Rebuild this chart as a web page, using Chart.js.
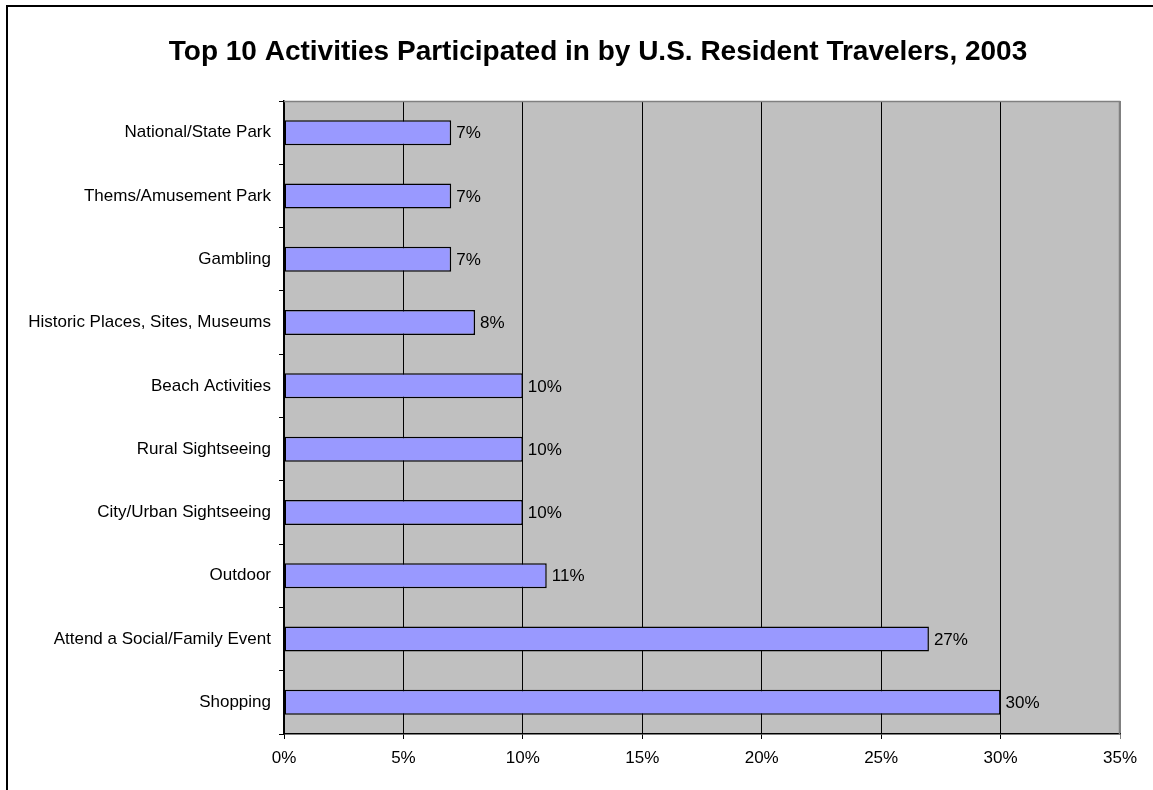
<!DOCTYPE html>
<html>
<head>
<meta charset="utf-8">
<script src="https://cdn.jsdelivr.net/npm/chart.js@4/dist/chart.umd.min.js"></script>
<style>
  html, body { margin: 0; padding: 0; background: #fff; }
  canvas { display: block; }
</style>
</head>
<body>
<canvas id="chart" width="1153" height="790"></canvas>
<script>
const activities = [
  'National/State Park',
  'Thems/Amusement Park',
  'Gambling',
  'Historic Places, Sites, Museums',
  'Beach Activities',
  'Rural Sightseeing',
  'City/Urban Sightseeing',
  'Outdoor',
  'Attend a Social/Family Event',
  'Shopping'
];
const shares = [7, 7, 7, 8, 10, 10, 10, 11, 27, 30];
const titleText = 'Top 10 Activities Participated in by U.S. Resident Travelers, 2003';

const FONT = '"Liberation Sans", Arial, Helvetica, sans-serif';

// frame, title and grey plot background
const decor = {
  id: 'decor',
  beforeDraw(chart) {
    const { ctx, chartArea: a } = chart;
    ctx.save();
    ctx.fillStyle = '#fff';
    ctx.fillRect(0, 0, chart.width, chart.height);
    ctx.fillStyle = '#000';
    ctx.fillRect(6, 5, 2, chart.height - 5);
    ctx.fillRect(6, 5, chart.width - 6, 2);
    ctx.font = 'bold 28px ' + FONT;
    ctx.textAlign = 'center';
    ctx.textBaseline = 'middle';
    ctx.fillText(titleText, 598, 52);
    ctx.fillStyle = '#C0C0C0';
    ctx.fillRect(a.left, a.top, a.right - a.left, a.bottom - a.top);
    ctx.restore();
  },
  afterDraw(chart) {
    const { ctx, chartArea: a } = chart;
    ctx.save();
    ctx.strokeStyle = '#808080';
    ctx.lineWidth = 1.5;
    ctx.beginPath();
    ctx.moveTo(a.left, a.top + 0.5);
    ctx.lineTo(a.right - 0.5, a.top + 0.5);
    ctx.lineTo(a.right - 0.5, a.bottom);
    ctx.stroke();
    ctx.restore();
  }
};

const valueLabels = {
  id: 'valueLabels',
  afterDatasetsDraw(chart) {
    const { ctx } = chart;
    const meta = chart.getDatasetMeta(0);
    ctx.save();
    ctx.font = '17px ' + FONT;
    ctx.fillStyle = '#000';
    ctx.textAlign = 'left';
    ctx.textBaseline = 'middle';
    meta.data.forEach((bar, i) => {
      ctx.fillText(shares[i] + '%', bar.x + 5, bar.y + 1);
    });
    ctx.restore();
  }
};

new Chart(document.getElementById('chart'), {
  type: 'bar',
  data: {
    labels: activities,
    datasets: [{
      data: shares,
      backgroundColor: '#9999FF',
      borderColor: '#000',
      borderWidth: 1.5,
      borderSkipped: false,
      categoryPercentage: 1,
      barPercentage: 0.395
    }]
  },
  options: {
    indexAxis: 'y',
    responsive: false,
    animation: false,
    layout: { padding: { left: 0, top: 101, right: 33, bottom: 0 } },
    plugins: {
      legend: { display: false },
      title: { display: false },
      tooltip: { enabled: false }
    },
    scales: {
      x: {
        min: 0,
        max: 35,
        afterFit: s => { s.height = 56; },
        ticks: {
          stepSize: 5,
          color: '#000',
          padding: 9,
          font: { family: FONT, size: 17 },
          callback: v => v + '%'
        },
        grid: {
          color: c => (c.tick && c.tick.value === 35 ? '#808080' : '#000'),
          lineWidth: 1,
          tickLength: 5
        },
        border: { color: '#000', width: 1.5 }
      },
      y: {
        afterFit: s => { s.width = 284; },
        ticks: {
          color: '#000',
          padding: 8,
          font: { family: FONT, size: 17 }
        },
        grid: {
          offset: true,
          drawOnChartArea: false,
          color: '#000',
          tickLength: 5
        },
        border: { color: '#000', width: 1.5 }
      }
    }
  },
  plugins: [decor, valueLabels]
});
</script>
</body>
</html>
